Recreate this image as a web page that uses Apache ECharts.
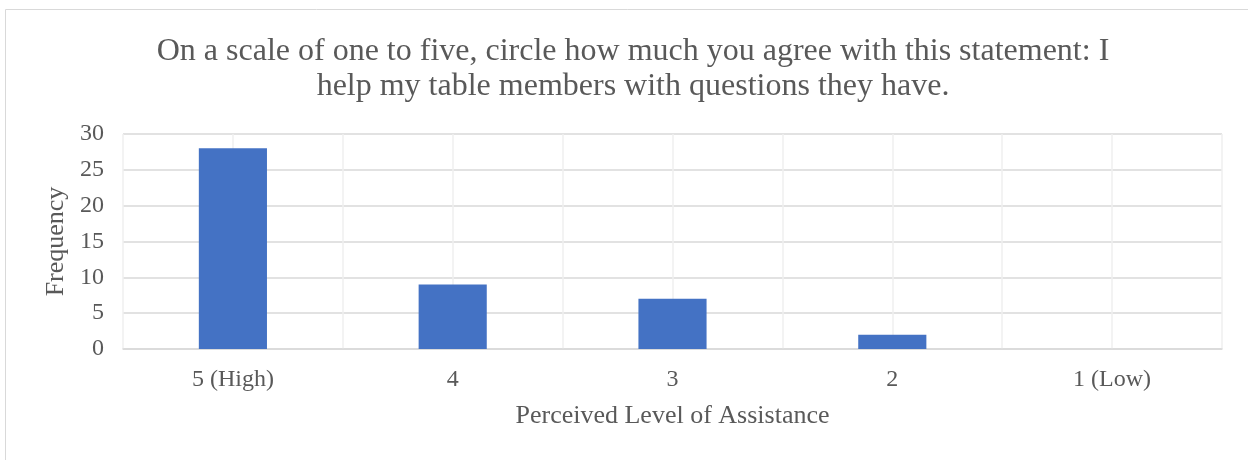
<!DOCTYPE html>
<html>
<head>
<meta charset="utf-8">
<script src="https://cdn.jsdelivr.net/npm/echarts@6/dist/echarts.min.js"></script>
<style>html,body{margin:0;padding:0;background:#fff;}#c{width:1248px;height:460px;}</style>
</head>
<body>
<div id="c"></div>
<script>
const categories = ['5 (High)', '4', '3', '2', '1 (Low)'];
const frequency = [28, 9, 7, 2, 0];
const yTicks = [0, 5, 10, 15, 20, 25, 30];
const titleText = 'On a scale of one to five, circle how much you agree with this statement: I\nhelp my table members with questions they have.';
const xName = 'Perceived Level of Assistance';
const yName = 'Frequency';

const chart = echarts.init(document.getElementById('c'));
const serif = '"Liberation Serif", "Times New Roman", serif';
chart.setOption({
  animation: false,
  graphic: [{
    type: 'rect', left: 3, top: 7, shape: {width: 1300, height: 500},
    style: {fill: 'none', stroke: '#d9d9d9', lineWidth: 1}, silent: true
  }],
  title: {
    text: titleText, left: 628, top: 29, textAlign: 'center',
    textStyle: {fontFamily: serif, fontSize: 32, fontWeight: 'normal', color: '#595959', lineHeight: 35}
  },
  grid: {left: 123, right: 26, top: 134, bottom: 111},
  xAxis: [{
    type: 'category', data: categories,
    axisLine: {lineStyle: {color: '#d9d9d9', width: 1.5}},
    axisTick: {show: false},
    axisLabel: {fontFamily: serif, fontSize: 24, color: '#595959', margin: 19},
    splitLine: {show: false},
    name: xName, nameLocation: 'middle', nameGap: 54,
    nameTextStyle: {fontFamily: serif, fontSize: 26, color: '#595959'}
  }, {
    type: 'value', min: 0, max: 10, interval: 1, show: true, position: 'bottom',
    axisLine: {show: false}, axisTick: {show: false}, axisLabel: {show: false},
    splitLine: {show: true, lineStyle: {color: '#efefef', width: 1.5}}
  }],
  yAxis: {
    type: 'value', min: 0, max: 30, interval: 5,
    axisLine: {show: false}, axisTick: {show: false},
    axisLabel: {fontFamily: serif, fontSize: 24, color: '#595959', margin: 19,
      formatter: v => yTicks.includes(v) ? String(v) : ''},
    splitLine: {lineStyle: {color: '#d9d9d9', width: 1.5}},
    name: yName, nameLocation: 'middle', nameGap: 50,
    nameTextStyle: {fontFamily: serif, fontSize: 26, color: '#595959'}
  },
  series: [{
    type: 'bar', data: frequency, xAxisIndex: 0, barWidth: '31%', z: 5,
    itemStyle: {color: '#4472c4'}
  }]
});
</script>
</body>
</html>
